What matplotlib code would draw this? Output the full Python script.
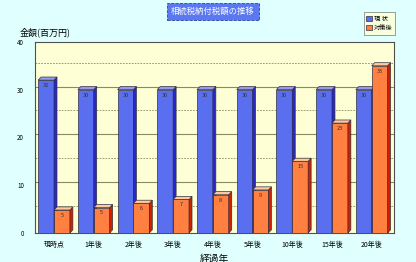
import matplotlib.pyplot as plt
from matplotlib.patches import Polygon
import numpy as np

plt.rcParams['font.family'] = ['Noto Sans CJK JP', 'DejaVu Sans']

# data
years = ['現時点', '1年後', '2年後', '3年後', '4年後', '5年後', '10年後', '15年後', '20年後']
genjo = [32, 30, 30, 30, 30, 30, 30, 30, 30]
taisaku = [4.8, 5.3, 6.2, 7.0, 8.0, 9.0, 15.0, 23.0, 35.0]
series_names = ['現 状', '対策後']

bg = '#E0FFFF'
wall = '#FFFFD6'
front = ['#5A6EF0', '#FF8040']
side = ['#2828C8', '#D02000']
top = ['#9898F0', '#FFC8A0']

fig = plt.figure(figsize=(4.16, 2.62), dpi=100, facecolor=bg)
ax = fig.add_axes([0.084, 0.111, 0.862, 0.729])
ax.set_facecolor(wall)

x = np.arange(len(years))
w = 0.4
dx, dy = 0.075, 0.65

# gridlines on the back wall
for v in range(5, 40, 5):
    if v % 10 == 0:
        ax.axhline(v + dy, color='#8A8A60', lw=0.8, zorder=1)
    else:
        ax.axhline(v + dy, color='#8A8A60', lw=0.6, ls=(0, (2, 1.5)), zorder=1)

for k, vals in enumerate([genjo, taisaku]):
    xs = x - w / 2 + k * w
    ax.bar(xs, vals, width=w, color=front[k], edgecolor='#303040',
           linewidth=0.5, zorder=3)
    for xi, v in zip(xs, vals):
        l, r = xi - w / 2, xi + w / 2
        ax.add_patch(Polygon([[r, 0], [r + dx, dy], [r + dx, v + dy], [r, v]],
                             closed=True, facecolor=side[k], edgecolor='#303040',
                             lw=0.5, zorder=3))
        ax.add_patch(Polygon([[l, v], [l + dx, v + dy], [r + dx, v + dy], [r, v]],
                             closed=True, facecolor=top[k], edgecolor='#303040',
                             lw=0.5, zorder=3))
        ax.text(xi, v - 0.6, '%d' % round(v), ha='center', va='top',
                fontsize=4, color='#303030', zorder=4)

ax.set_xlim(-0.48, 8.55)
ax.set_ylim(0, 40)
ax.set_yticks(range(0, 41, 10))
ax.set_xticks(x)
ax.set_xticklabels(years)
ax.tick_params(axis='y', labelsize=4.5, length=0, pad=8)
ax.tick_params(axis='x', labelsize=5, length=0, pad=6)
for s in ax.spines.values():
    s.set_color('#505050')
    s.set_linewidth(0.8)

ax.set_xlabel('経過年', fontsize=7, labelpad=3)
fig.text(0.048, 0.875, '金額(百万円)', fontsize=6.5, ha='left', va='center')

fig.text(0.512, 0.955, '相続税納付税額の推移', fontsize=6, color='white',
         ha='center', va='center',
         bbox=dict(boxstyle='square,pad=0.5', facecolor='#5A78F0',
                   edgecolor='#3040A0', linestyle='--', linewidth=0.6))

handles = [plt.Rectangle((0, 0), 1, 1, facecolor=front[k], edgecolor='#303040', lw=0.5)
           for k in range(2)]
leg = fig.legend(handles, series_names, loc='upper right',
                 bbox_to_anchor=(0.958, 0.965), fontsize=4.5, frameon=True,
                 fancybox=False, handlelength=0.9, handleheight=0.9,
                 handletextpad=0.4, borderpad=0.4, labelspacing=0.2)
leg.get_frame().set_facecolor('#FFFFD6')
leg.get_frame().set_edgecolor('#707070')
leg.get_frame().set_linewidth(0.6)

fig.savefig('out.png', dpi=100, facecolor=bg)
